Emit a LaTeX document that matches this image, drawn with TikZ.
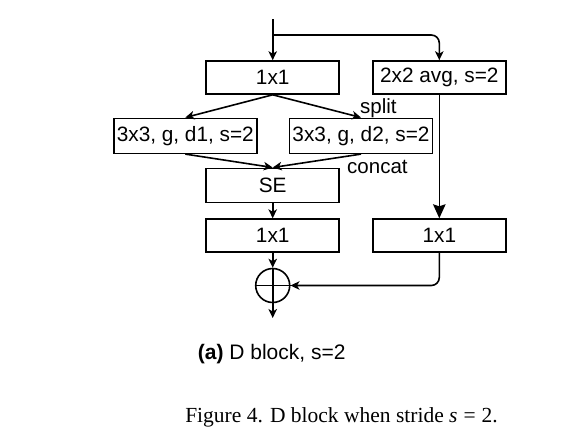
\documentclass[tikz,border=0pt]{standalone}
\usepackage{fontspec}
\setmainfont{Liberation Serif}
\setsansfont{Liberation Sans}
\usepackage{tikz}
\usetikzlibrary{arrows.meta,shapes,positioning,calc}

\tikzset{
    blk/.style={draw, line width=1.6pt, minimum width=133pt, minimum height=33pt, inner sep=0pt, font=\sffamily\fontsize{20.8}{24}\selectfont},
    wideblk/.style={blk, minimum width=143pt, minimum height=35pt},
    lbl/.style={anchor=base west, inner sep=0pt, font=\sffamily\fontsize{20.5}{24}\selectfont},
    arr/.style={line width=1.6pt, -{Stealth[length=9pt,width=8.5pt,inset=2.5pt]}},
    bigarr/.style={line width=1.6pt, -{Stealth[length=14pt,width=12.5pt,inset=2pt]}}
}

\begin{document}
\begin{tikzpicture}[x=1pt, y=-1pt]
    \useasboundingbox (0,0) rectangle (583,445);

    % Main branch
    \coordinate (in) at (272.7, 19);
    \coordinate (fork) at (272.7, 35);
    \node[blk] (c1) at (272.7, 77.5) {1x1};
    \node[wideblk] (d1) at (185.3, 135.8) {3x3, g, d1, s=2};
    \node[wideblk] (d2) at (361, 135.8) {3x3, g, d2, s=2};
    \node[blk, minimum height=34pt] (se) at (272.7, 185.3) {SE};
    \node[blk] (c2) at (272.7, 235.6) {1x1};
    \node[circle, draw, line width=1.6pt, minimum size=34pt, inner sep=0pt] (plus) at (272.7, 285.5) {};
    \draw[line width=1.6pt] (plus.north) -- (plus.south) (plus.west) -- (plus.east);
    \coordinate (out) at (272.7, 318);

    % Shortcut branch
    \node[blk] (avg) at (439.3, 77.5) {2x2 avg, s=2};
    \node[blk] (c3) at (439.3, 235.6) {1x1};

    % Labels
    \node[lbl] (split) at (360, 113.5) {split};
    \node[lbl] (concat) at (347, 173) {concat};

    % Connectors
    \draw[arr] (in) -- (c1);
    \draw[arr, rounded corners=8pt] (fork) -| (avg);
    \draw[arr] (c1.south) -- (d1.north);
    \draw[arr] (c1.south) -- (d2.north);
    \draw[arr] (d1.south) -- (se.north);
    \draw[arr] (d2.south) -- (se.north);
    \draw[arr] (se) -- (c2);
    \draw[arr] (c2) -- (plus);
    \draw[arr] (plus) -- (out);
    \draw[bigarr] (avg) -- (c3);
    \draw[arr, rounded corners=8pt] (c3.south) |- (plus);

    % Captions
    \node[anchor=base, inner sep=0pt, font=\sffamily\fontsize{21}{24}\selectfont] (suba) at (271.7, 359) {\textbf{(a)} D block, s=2};
    \node[anchor=base, inner sep=0pt, font=\fontsize{21.5}{26}\selectfont] (fig) at (341.5, 422) {Figure 4. D block when stride \textit{s}\;=\;2.};
\end{tikzpicture}
\end{document}
